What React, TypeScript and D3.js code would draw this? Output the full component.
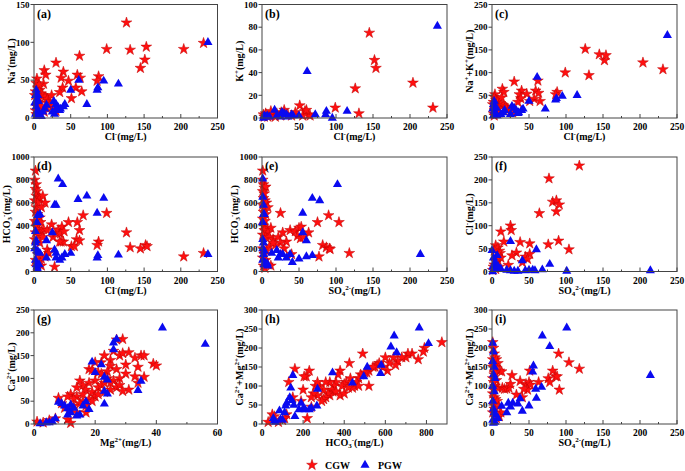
import React from 'react';
import * as d3 from 'd3';

type Pt = [number, number];
type Seg = [string, '' | 'sup' | 'sub'];

// ---------- tick values ----------
const ticks250 = [0, 50, 100, 150, 200, 250];
const ticks150 = [0, 50, 100, 150];
const ticks100 = [0, 20, 40, 60, 80, 100];
const ticks1000 = [0, 200, 400, 600, 800, 1000];
const ticks300 = [0, 50, 100, 150, 200, 250, 300];
const ticks60 = [0, 20, 40, 60];
const ticks900 = [0, 200, 400, 600, 800];

// ---------- axis titles ----------
const tCl: Seg[] = [['Cl', ''], ['-', 'sup'], ['(mg/L)', '']];
const tNa: Seg[] = [['Na', ''], ['+', 'sup'], ['(mg/L)', '']];
const tK: Seg[] = [['K', ''], ['+', 'sup'], ['(mg/L)', '']];
const tNaK: Seg[] = [['Na', ''], ['+', 'sup'], ['+K', ''], ['+', 'sup'], ['(mg/L)', '']];
const tHCO3: Seg[] = [['HCO', ''], ['3', 'sub'], ['-', 'sup'], ['(mg/L)', '']];
const tSO4: Seg[] = [['SO', ''], ['4', 'sub'], ['2-', 'sup'], ['(mg/L)', '']];
const tCa: Seg[] = [['Ca', ''], ['2+', 'sup'], ['(mg/L)', '']];
const tMg: Seg[] = [['Mg', ''], ['2+', 'sup'], ['(mg/L)', '']];
const tCaMg: Seg[] = [['Ca', ''], ['2+', 'sup'], ['+Mg', ''], ['2+', 'sup'], ['(mg/L)', '']];

// ---------- data (a) Cl vs Na ----------
const cgwA: Pt[] = [[126,126],[99,91],[131,90],[153,94],[151,77],[145,66],[204,91],[231,99],[62,82],[30,73],[14,63],[16,57],[40,61],[37,53],[59,57],[63,53],[47,49],[57,40],[39,40],[35,34],[51,26],[65,35],[88,55],[86,49],[4,52],[3,46],[5,40],[2,35],[8,37],[10,32],[6,28],[12,30],[15,28],[18,25],[20,22],[22,18],[25,15],[28,12],[30,9],[8,20],[4,15],[2,10],[10,12],[14,8],[3,5],[6,25],[1,30],[13,45],[7,44],[24,30],[17,13],[9,16]];
const pgwA: Pt[] = [[237,100],[115,45],[95,49],[87,40],[86,37],[61,50],[50,37],[72,18],[3,37],[2,30],[4,25],[1,20],[3,15],[5,10],[7,5],[8,3],[10,2],[5,30],[6,22],[17,17],[27,22],[30,18],[33,14],[35,10],[40,15],[42,18],[28,5],[25,8],[15,12],[12,8],[2,5],[4,2],[36,12],[30,12]];

// ---------- (b) Cl vs K ----------
const cgwB: Pt[] = [[145,75],[152,51],[154,44],[126,26],[204,31],[231,9],[131,4],[99,9],[51,11],[58,6],[63,3],[65,2],[30,7],[26,5],[20,4],[15,3],[10,2],[5,4],[2,3],[8,1],[35,3],[45,5],[55,2],[40,2],[60,7],[3,1],[12,6],[18,1],[25,2]];
const pgwB: Pt[] = [[237,81],[61,41],[115,6],[95,0],[87,6],[86,3],[72,3],[50,2],[17,7],[27,5],[30,4],[33,3],[40,3],[42,2],[3,2],[5,1],[2,0],[7,2],[10,1],[25,1],[35,1],[20,2]];

// ---------- (c) Cl vs Na+K ----------
const cgwC: Pt[] = [[126,152],[145,140],[152,127],[154,138],[204,122],[231,107],[131,94],[99,100],[30,80],[62,82],[14,64],[16,57],[40,60],[37,52],[59,60],[63,55],[47,53],[57,42],[39,43],[35,35],[51,37],[65,37],[88,57],[86,52],[4,52],[3,46],[5,40],[2,35],[8,37],[10,32],[6,28],[12,30],[15,28],[18,25],[20,22],[22,18],[25,15],[28,12],[8,20],[4,15],[2,10],[10,12],[3,5],[1,30],[13,45]];
const pgwC: Pt[] = [[237,182],[61,90],[115,50],[95,48],[87,43],[86,40],[50,37],[72,20],[3,37],[2,30],[4,25],[1,20],[3,15],[5,10],[7,5],[17,17],[27,26],[30,22],[33,16],[35,10],[40,17],[42,20],[25,8],[15,12],[12,8],[2,5],[6,22],[36,12]];

// ---------- (d) Cl vs HCO3 ----------
const cgwD: Pt[] = [[2,880],[1,800],[3,760],[2,720],[4,700],[3,660],[6,650],[1,620],[8,640],[12,660],[15,600],[5,600],[3,560],[10,560],[2,520],[5,500],[8,470],[1,440],[4,420],[9,430],[3,390],[6,370],[2,340],[10,350],[7,320],[13,370],[18,360],[24,410],[26,300],[30,340],[33,360],[38,390],[36,330],[41,350],[47,430],[59,430],[62,360],[67,490],[99,510],[126,340],[37,260],[40,260],[35,260],[58,280],[62,270],[51,220],[55,220],[88,260],[86,230],[131,210],[145,200],[152,230],[154,220],[204,130],[231,160],[18,190],[20,160],[15,130],[10,110],[5,60],[3,40],[28,40],[10,50],[5,150],[2,100],[8,250],[12,300],[1,280]];
const pgwD: Pt[] = [[33,810],[39,760],[60,630],[72,660],[95,640],[28,580],[30,580],[86,510],[8,500],[5,490],[4,430],[2,350],[3,270],[2,250],[1,200],[4,180],[6,170],[8,160],[17,270],[25,340],[28,190],[30,160],[30,120],[35,100],[38,120],[42,150],[50,160],[17,120],[87,140],[86,120],[115,145],[237,150],[2,100],[3,60],[4,40],[5,20],[7,60]];

// ---------- (e) SO4 vs HCO3 ----------
const cgwE: Pt[] = [[1,880],[1,800],[2,760],[3,730],[5,740],[1,700],[3,680],[2,640],[4,620],[6,600],[1,580],[3,560],[8,560],[2,520],[5,500],[1,460],[4,440],[2,400],[6,380],[12,380],[3,360],[8,340],[1,320],[5,300],[10,300],[15,280],[22,300],[28,340],[25,510],[38,360],[45,350],[50,380],[53,390],[48,310],[52,290],[56,300],[63,340],[75,430],[90,490],[104,430],[33,260],[25,250],[18,230],[30,200],[82,230],[87,210],[91,200],[92,195],[118,160],[77,130],[40,150],[1,200],[3,150],[5,100],[8,60],[12,50],[2,50],[4,30],[1,120],[6,180],[10,220],[15,250]];
const pgwE: Pt[] = [[1,810],[102,760],[68,640],[78,620],[55,510],[55,340],[60,270],[1,650],[2,580],[2,500],[1,430],[3,500],[1,280],[2,250],[1,200],[3,180],[2,150],[1,100],[4,80],[5,60],[8,50],[13,160],[20,185],[22,120],[25,150],[28,150],[33,120],[38,150],[41,80],[50,110],[60,130],[68,140],[214,150],[3,60],[7,70]];

// ---------- (f) SO4 vs Cl ----------
const cgwF: Pt[] = [[118,231],[77,203],[82,152],[87,155],[91,146],[87,131],[64,127],[25,100],[26,90],[12,87],[16,65],[38,64],[51,61],[90,67],[76,59],[104,48],[5,57],[8,52],[10,45],[11,40],[3,45],[33,41],[27,35],[45,32],[51,38],[48,27],[41,20],[22,14],[6,20],[8,25],[3,15],[2,10],[10,10],[5,5],[1,3],[12,30],[7,32]];
const pgwF: Pt[] = [[25,66],[60,48],[0,46],[41,24],[78,16],[7,35],[2,30],[4,20],[1,10],[3,5],[5,8],[12,6],[20,3],[25,2],[30,1],[35,1],[50,3],[55,3],[58,2],[68,4],[101,1],[214,2],[1,0],[8,12],[45,2]];

// ---------- (g) Mg vs Ca ----------
const cgwG: Pt[] = [[29,186],[27,185],[26,160],[28,150],[25,140],[22,135],[20,135],[18,120],[23,150],[29,155],[31,157],[33,145],[35,150],[36,150],[39,132],[40,128],[30,130],[34,125],[25,127],[27,120],[24,115],[21,113],[19,118],[22,110],[36,103],[33,104],[30,110],[28,100],[26,95],[24,100],[20,95],[18,90],[15,95],[16,85],[14,80],[12,65],[17,75],[19,70],[21,80],[22,85],[23,90],[25,75],[27,80],[28,85],[29,72],[31,75],[34,90],[20,60],[18,55],[16,50],[14,60],[13,55],[11,60],[9,45],[8,57],[10,35],[12,30],[14,25],[17,25],[11,10],[12,2],[5,8],[3,3],[1,5],[7,12],[15,45],[17,40],[21,65],[23,70],[19,50],[16,65],[25,90],[13,40]];
const pgwG: Pt[] = [[42,211],[56,175],[27,186],[26,178],[26,163],[19,136],[22,130],[20,113],[23,103],[24,97],[35,94],[34,74],[23,72],[24,66],[23,44],[17,49],[18,32],[16,40],[15,20],[12,42],[10,40],[11,34],[12,25],[13,35],[11,20],[9,45],[8,48],[7,12],[6,5],[5,3],[4,3],[2,1],[14,18]];

// ---------- (h) HCO3 vs Ca+Mg ----------
const cgwH: Pt[] = [[875,215],[790,200],[785,190],[760,170],[730,185],[710,185],[700,175],[680,175],[660,165],[650,155],[640,175],[620,160],[600,175],[610,140],[590,150],[570,160],[560,155],[550,150],[540,150],[520,140],[510,135],[500,135],[490,185],[480,130],[470,120],[460,110],[450,100],[440,95],[425,160],[430,120],[410,110],[400,105],[390,100],[380,140],[370,130],[360,110],[350,100],[345,85],[340,90],[330,75],[320,80],[310,70],[300,90],[300,65],[290,60],[280,100],[270,75],[260,100],[250,80],[240,70],[230,140],[215,125],[205,125],[200,90],[190,60],[160,145],[150,70],[130,110],[120,25],[110,15],[100,10],[80,5],[60,20],[50,25],[30,5],[220,15],[240,45],[330,110],[360,85],[380,75],[400,80],[420,95],[470,100],[520,100],[310,110],[270,110]];
const pgwH: Pt[] = [[765,253],[643,232],[627,203],[655,188],[810,212],[580,155],[577,133],[512,150],[495,125],[440,108],[343,135],[270,92],[267,48],[240,42],[150,128],[140,95],[135,70],[145,62],[120,55],[115,48],[110,30],[155,50],[160,20],[180,38],[190,55],[200,40],[210,38],[100,10],[60,8],[55,15],[85,35],[90,12],[65,5],[230,38]];

// ---------- (i) SO4 vs Ca+Mg ----------
const cgwI: Pt[] = [[1,215],[2,200],[3,185],[1,170],[4,175],[6,170],[8,160],[2,155],[5,150],[10,140],[3,130],[1,120],[6,115],[4,100],[2,90],[8,95],[1,80],[3,70],[5,65],[7,60],[2,50],[9,45],[12,30],[10,20],[6,15],[14,95],[17,92],[20,93],[23,95],[25,105],[27,128],[13,138],[38,113],[46,105],[50,110],[52,103],[63,110],[48,90],[43,92],[41,70],[33,77],[51,140],[76,120],[78,110],[82,140],[86,125],[88,125],[90,185],[104,162],[118,145],[91,90],[1,150],[4,135],[2,110],[1,30],[3,40]];
const pgwI: Pt[] = [[101,253],[68,232],[78,204],[56,153],[55,137],[59,92],[67,97],[60,68],[41,34],[38,67],[35,53],[28,55],[25,45],[22,55],[20,30],[13,47],[50,48],[214,128],[1,213],[2,190],[1,165],[3,150],[2,130],[4,120],[1,100],[3,85],[1,60],[2,40],[3,30],[5,25],[8,15],[1,10],[4,5],[2,2]];

const panelLetters = ['(a)', '(b)', '(c)', '(d)', '(e)', '(f)', '(g)', '(h)', '(i)'];
const seriesNames = ['CGW', 'PGW'];

const panels = [
  { cgw: cgwA, pgw: pgwA, xMax: 250, xTicks: ticks250, yMax: 150, yTicks: ticks150, xt: tCl, yt: tNa },
  { cgw: cgwB, pgw: pgwB, xMax: 250, xTicks: ticks250, yMax: 100, yTicks: ticks100, xt: tCl, yt: tK },
  { cgw: cgwC, pgw: pgwC, xMax: 250, xTicks: ticks250, yMax: 250, yTicks: ticks250, xt: tCl, yt: tNaK },
  { cgw: cgwD, pgw: pgwD, xMax: 250, xTicks: ticks250, yMax: 1000, yTicks: ticks1000, xt: tCl, yt: tHCO3 },
  { cgw: cgwE, pgw: pgwE, xMax: 250, xTicks: ticks250, yMax: 1000, yTicks: ticks1000, xt: tSO4, yt: tHCO3 },
  { cgw: cgwF, pgw: pgwF, xMax: 250, xTicks: ticks250, yMax: 250, yTicks: ticks250, xt: tSO4, yt: tCl },
  { cgw: cgwG, pgw: pgwG, xMax: 60, xTicks: ticks60, yMax: 250, yTicks: ticks250, xt: tMg, yt: tCa },
  { cgw: cgwH, pgw: pgwH, xMax: 900, xTicks: ticks900, yMax: 300, yTicks: ticks300, xt: tHCO3, yt: tCaMg },
  { cgw: cgwI, pgw: pgwI, xMax: 250, xTicks: ticks250, yMax: 300, yTicks: ticks300, xt: tSO4, yt: tCaMg },
];

// layout
const colX: [number, number][] = [[34, 217.5], [262, 447], [492, 677]];
const rowY: [number, number][] = [[4.5, 118], [157, 271.5], [310, 424]];

const FONT = "'Liberation Serif', 'Times New Roman', serif";
const RED = '#ff1010';
const RED_STROKE = '#c00000';
const BLUE = '#0a0af0';
const FRAME = '#444';

const starPath = d3.symbol(d3.symbolStar, 36)()!;
const triPath = d3.symbol(d3.symbolTriangle, 36)()!;

function Rich({ segs, ...rest }: { segs: Seg[]; [k: string]: any }) {
  let shift = 0;
  return (
    <text {...rest}>
      {segs.map(([t, k], i) => {
        const target = k === 'sup' ? -3.6 : k === 'sub' ? 2.4 : 0;
        const dy = target - shift;
        shift = target;
        return (
          <tspan key={i} dy={dy} fontSize={k ? '70%' : undefined}>
            {t}
          </tspan>
        );
      })}
    </text>
  );
}

function Panel({ idx }: { idx: number }) {
  const p = panels[idx];
  const [x0, x1] = colX[idx % 3];
  const [y0, y1] = rowY[Math.floor(idx / 3)];
  const xs = d3.scaleLinear().domain([0, p.xMax]).range([x0, x1]);
  const ys = d3.scaleLinear().domain([0, p.yMax]).range([y1, y0]);
  const xStep = p.xTicks[1] - p.xTicks[0];
  const minors = d3.range(xStep / 2, p.xMax, xStep);
  const wide = p.yMax >= 1000;
  const titleX = x0 - (wide ? 24 : 19);
  return (
    <g>
      {p.cgw.map((d, i) => (
        <path
          key={'c' + i}
          d={starPath}
          transform={`translate(${xs(d[0])},${ys(d[1])})`}
          fill={RED}
          stroke={RED_STROKE}
          strokeWidth={0.5}
        />
      ))}
      {p.pgw.map((d, i) => (
        <path key={'p' + i} d={triPath} transform={`translate(${xs(d[0])},${ys(d[1])})`} fill={BLUE} />
      ))}
      <rect x={x0} y={y0} width={x1 - x0} height={y1 - y0} fill="none" stroke={FRAME} strokeWidth={1} />
      {p.xTicks.map((t) => (
        <g key={'xt' + t}>
          <line x1={xs(t)} x2={xs(t)} y1={y1} y2={y1 - 4} stroke={FRAME} />
          <text x={xs(t)} y={y1 + 12} textAnchor="middle" fontSize={9.5} fontWeight="bold" fontFamily={FONT}>
            {t}
          </text>
        </g>
      ))}
      {minors.map((t) => (
        <line key={'xm' + t} x1={xs(t)} x2={xs(t)} y1={y1} y2={y1 - 2} stroke={FRAME} />
      ))}
      {p.yTicks.map((t) => (
        <g key={'yt' + t}>
          <line x1={x0} x2={x0 - 3.5} y1={ys(t)} y2={ys(t)} stroke={FRAME} />
          <text x={x0 - 4.5} y={ys(t) + 3.2} textAnchor="end" fontSize={9} fontWeight="bold" fontFamily={FONT}>
            {t}
          </text>
        </g>
      ))}
      <text x={x0 + 3} y={y0 + 13} fontSize={12} fontWeight="bold" fontFamily={FONT}>
        {panelLetters[idx]}
      </text>
      <Rich
        segs={p.xt}
        x={(x0 + x1) / 2}
        y={y1 + 22}
        textAnchor="middle"
        fontSize={10}
        fontWeight="bold"
        fontFamily={FONT}
      />
      <Rich
        segs={p.yt}
        transform={`translate(${titleX},${(y0 + y1) / 2}) rotate(-90)`}
        textAnchor="middle"
        fontSize={10}
        fontWeight="bold"
        fontFamily={FONT}
      />
    </g>
  );
}

export default function App() {
  return (
    <svg
      width={685}
      height={471}
      style={{ position: 'absolute', left: 0, top: 0, background: '#fff' }}
    >
      {panels.map((_, i) => (
        <Panel key={i} idx={i} />
      ))}
      <g>
        <path d={starPath} transform="translate(312,465)" fill={RED} stroke={RED_STROKE} strokeWidth={0.5} />
        <text x={325} y={468.5} fontSize={10} fontWeight="bold" fontFamily={FONT}>
          {seriesNames[0]}
        </text>
        <path d={triPath} transform="translate(365,465)" fill={BLUE} />
        <text x={378} y={468.5} fontSize={10} fontWeight="bold" fontFamily={FONT}>
          {seriesNames[1]}
        </text>
      </g>
    </svg>
  );
}
